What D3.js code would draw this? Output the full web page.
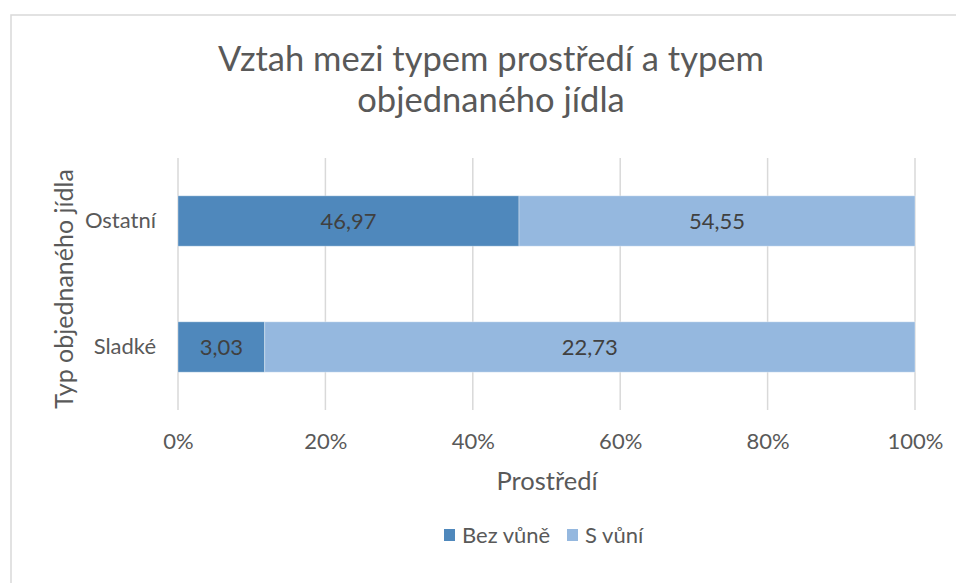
<!DOCTYPE html>
<html lang="cs">
<head>
<meta charset="utf-8">
<title>Vztah mezi typem prostředí a typem objednaného jídla</title>
<script src="https://cdn.jsdelivr.net/npm/d3@7"></script>
<style>
  body { margin: 0; background: #fff; }
  svg { font-family: Lato, "Open Sans", sans-serif; }
</style>
</head>
<body>
<div id="chart"></div>
<script>
// data
var categories = ["Ostatní", "Sladké"];
var seriesNames = ["Bez vůně", "S vůní"];
var bezVune = [46.97, 3.03];
var sVuni = [54.55, 22.73];
var xTicks = [0, 0.2, 0.4, 0.6, 0.8, 1];

var colors = ["#4f88bc", "#95b8df"];
var textColor = "#595959";

var width = 956, height = 583;
var plotLeft = 178, plotRight = 915, plotTop = 158, plotBottom = 410;

var rows = categories.map(function(c, i) {
  return { cat: c, "Bez vůně": bezVune[i], "S vůní": sVuni[i] };
});

// 100% stacked
var stack = d3.stack()
  .keys(seriesNames)
  .offset(d3.stackOffsetExpand);
var layers = stack(rows);

var x = d3.scaleLinear().domain([0, 1]).range([plotLeft, plotRight]);
var y = d3.scaleBand().domain(categories).range([plotTop, plotBottom]).paddingInner(0.6).paddingOuter(0.3);

var svg = d3.select("#chart").append("svg")
  .attr("width", width)
  .attr("height", height);

// chart frame
svg.append("path")
  .attr("d", "M11,583 L11,15 L956,15")
  .attr("fill", "none")
  .attr("stroke", "#d9d9d9")
  .attr("stroke-width", 1.5);

// title
var title = svg.append("text")
  .attr("text-anchor", "middle")
  .attr("fill", textColor)
  .style("font-size", "34.5px");
title.append("tspan").attr("x", 491).attr("y", 71).text("Vztah mezi typem prostředí a typem");
title.append("tspan").attr("x", 491).attr("y", 112).text("objednaného jídla");

// gridlines
svg.append("g").selectAll("line")
  .data(xTicks)
  .enter().append("line")
  .attr("x1", function(d) { return x(d); })
  .attr("x2", function(d) { return x(d); })
  .attr("y1", plotTop)
  .attr("y2", plotBottom)
  .attr("stroke", "#d9d9d9")
  .attr("stroke-width", 1.5);

// bars
var layer = svg.append("g").selectAll("g")
  .data(layers)
  .enter().append("g")
  .attr("fill", function(d, i) { return colors[i]; });

layer.selectAll("rect")
  .data(function(d) { return d; })
  .enter().append("rect")
  .attr("x", function(d) { return x(d[0]); })
  .attr("width", function(d) { return x(d[1]) - x(d[0]); })
  .attr("y", function(d) { return y(d.data.cat); })
  .attr("height", y.bandwidth())
  .attr("stroke", "#ffffff")
  .attr("stroke-opacity", 0.35)
  .attr("stroke-width", 1);

// data labels (raw values, comma decimal)
var fmt = function(v) { return d3.format(".2f")(v).replace(".", ","); };
layers.forEach(function(l) {
  svg.append("g").selectAll("text")
    .data(l)
    .enter().append("text")
    .attr("x", function(d) { return (x(d[0]) + x(d[1])) / 2; })
    .attr("y", function(d) { return y(d.data.cat) + y.bandwidth() / 2; })
    .attr("dy", "0.35em")
    .attr("text-anchor", "middle")
    .attr("fill", "#404040")
    .style("font-size", "22px")
    .text(function(d) { return fmt(d.data[l.key]); });
});

// x axis labels
var xAxis = svg.append("g")
  .attr("transform", "translate(0," + (plotBottom + 31) + ")")
  .call(d3.axisBottom(x).tickValues(xTicks).tickFormat(d3.format(".0%")).tickSize(0).tickPadding(0));
xAxis.select(".domain").remove();
xAxis.selectAll("text")
  .attr("fill", textColor)
  .attr("dy", "0.35em")
  .style("font-family", "Lato, sans-serif")
  .style("font-size", "22px");

// y axis labels
var yAxis = svg.append("g")
  .attr("transform", "translate(" + (plotLeft - 22) + ",0)")
  .call(d3.axisLeft(y).tickSize(0).tickPadding(0));
yAxis.select(".domain").remove();
yAxis.selectAll("text")
  .attr("fill", textColor)
  .style("font-family", "Lato, sans-serif")
  .style("font-size", "22px");

// axis titles
svg.append("text")
  .attr("x", 547)
  .attr("y", 490)
  .attr("text-anchor", "middle")
  .attr("fill", textColor)
  .style("font-size", "25.5px")
  .text("Prostředí");

svg.append("text")
  .attr("transform", "translate(73,289) rotate(-90)")
  .attr("text-anchor", "middle")
  .attr("fill", textColor)
  .style("font-size", "25px")
  .text("Typ objednaného jídla");

// legend
var legendX = [444, 567];
var legend = svg.append("g").selectAll("g")
  .data(seriesNames)
  .enter().append("g")
  .attr("transform", function(d, i) { return "translate(" + legendX[i] + ",535)"; });
legend.append("rect")
  .attr("x", 0)
  .attr("y", -6)
  .attr("width", 11)
  .attr("height", 12)
  .attr("fill", function(d, i) { return colors[i]; });
legend.append("text")
  .attr("x", 18)
  .attr("dy", "0.35em")
  .attr("fill", textColor)
  .style("font-size", "22px")
  .text(function(d) { return d; });
</script>
</body>
</html>
